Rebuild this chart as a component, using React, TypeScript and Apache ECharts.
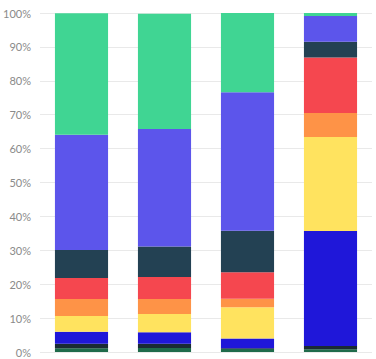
import React, { useEffect, useRef } from "react";
import * as echarts from "echarts";

const categories = ["A", "B", "C", "D"];
const seriesNames = ["S1", "S2", "S3", "S4", "S5", "S6", "S7", "S8", "S9"];
const darkGreen = [1.1, 1.2, 0.9, 0.8];
const dark = [1.3, 1.2, 0.2, 1.0];
const blue = [3.6, 3.4, 2.9, 33.9];
const yellow = [4.6, 5.4, 9.2, 27.7];
const orange = [5.0, 4.4, 2.5, 7.1];
const red = [6.2, 6.5, 7.8, 16.4];
const teal = [8.3, 9.0, 12.3, 4.6];
const purple = [34.0, 34.7, 40.8, 7.6];
const green = [35.8, 34.0, 23.4, 0.9];
const yTicks = [0, 10, 20, 30, 40, 50, 60, 70, 80, 90, 100];

const allData = [darkGreen, dark, blue, yellow, orange, red, teal, purple, green];
const colors = ["#1f6b4b", "#1a2b34", "#1f17d9", "#ffe35f", "#fe9347", "#f5474f", "#234153", "#5c55eb", "#40d593"];

export default function App() {
  const ref = useRef<HTMLDivElement>(null);
  useEffect(() => {
    if (!ref.current) return;
    const chart = echarts.init(ref.current, undefined, { renderer: "svg" });
    chart.setOption({
      animation: false,
      grid: { left: 40, right: 4, top: 13, bottom: 7, containLabel: false },
      xAxis: {
        type: "category",
        data: categories,
        axisLine: { show: false },
        axisTick: { show: false },
        axisLabel: { show: false },
      },
      yAxis: {
        type: "value",
        min: yTicks[0],
        max: yTicks[yTicks.length - 1],
        interval: 10,
        axisLine: { show: false },
        axisTick: { show: false },
        splitLine: { lineStyle: { color: "#e9e9e9", width: 1 } },
        axisLabel: {
          formatter: "{value}%",
          color: "#8a8a8a",
          fontSize: 11,
          fontFamily: "Lato",
          margin: 9,
        },
      },
      series: allData.map((d, i) => ({
        name: seriesNames[i],
        type: "bar",
        stack: "total",
        barWidth: "64%",
        data: d,
        itemStyle: { color: colors[i] },
      })),
    });
    return () => chart.dispose();
  }, []);
  return (
    <div
      ref={ref}
      style={{ position: "absolute", left: 0, top: 0, width: 376, height: 359 }}
    />
  );
}
